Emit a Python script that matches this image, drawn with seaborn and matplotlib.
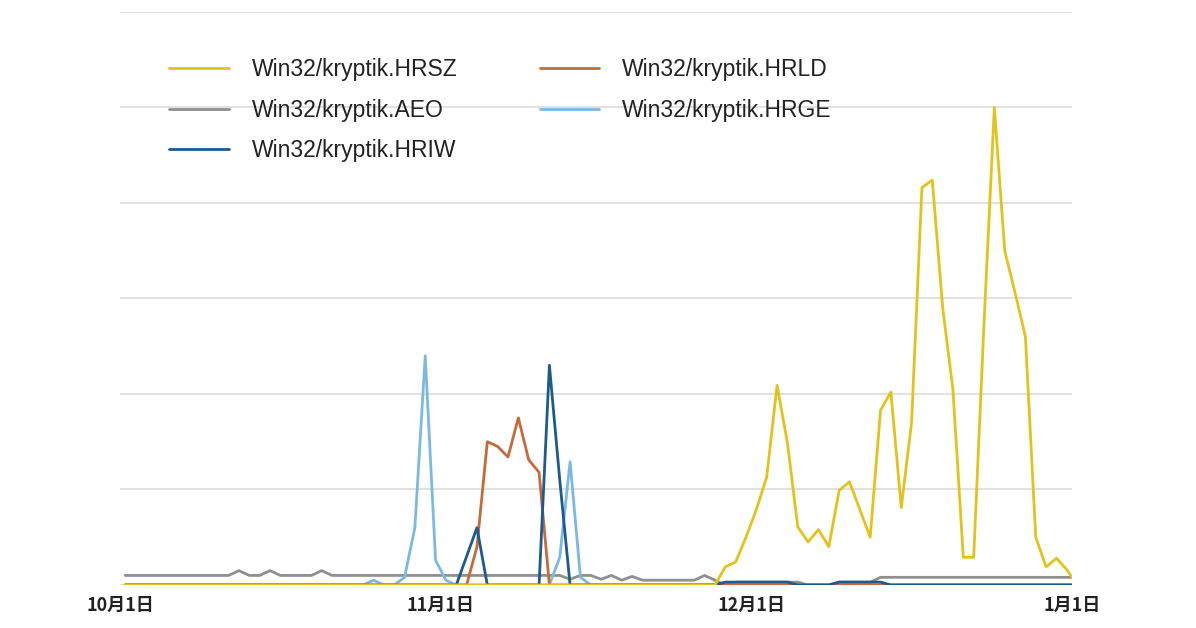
import numpy as np
import pandas as pd
import matplotlib
matplotlib.use("Agg")
import matplotlib.pyplot as plt
import seaborn as sns

N_DAYS = 93  # day 0 = 10/1, day 92 = 1/1
series_names = ["Win32/kryptik.HRSZ", "Win32/kryptik.AEO", "Win32/kryptik.HRIW",
                "Win32/kryptik.HRLD", "Win32/kryptik.HRGE"]
colors = ["#E3C21C", "#8f8f8f", "#1d5a8e", "#c56a3c", "#7bb9e3"]
tick_days = [0, 31, 61, 92]
tick_labels = ["10月1日", "11月1日", "12月1日", "1月1日"]

# HRSZ (yellow), days 57..91
hrsz_days = list(range(57, 92))
hrsz_vals = [0, 1.9, 2.4, 5, 7.9, 11.3, 20.9, 14.9, 6.1, 4.5, 5.8, 4.0, 9.9, 10.8, 7.9,
             5.0, 18.3, 20.2, 8.1, 17, 41.6, 42.4, 29.1, 20.4, 2.9, 2.9, 27.4, 50, 35,
             30.6, 26, 5, 1.9, 2.8, 1.6]
# AEO (gray)
aeo_vals = [1.0, 1.0, 1.0, 1.0, 1.0, 1.0, 1.0, 1.0, 1.0, 1.0, 1.0, 1.5, 1.0, 1.0, 1.5, 1.0,
            1.0, 1.0, 1.0, 1.5, 1.0, 1.0, 1.0, 1.0, 1.0, 1.0, 1.0, 1.0, 1.0, 1.0, 1.0, 1.0,
            1.0, 1.0, 1.0, 1.0, 1.0, 1.0, 1.0, 1.0, 1.0, 1.0, 1.0, 0.6, 1.0, 1.0, 0.6, 1.0,
            0.5, 0.9, 0.5, 0.5, 0.5, 0.5, 0.5, 0.5, 1.0, 0.5, 0.0, 0.3, 0.3, 0.3, 0.3, 0.3,
            0.3, 0.3, 0.0, 0.0, 0.0, 0.3, 0.3, 0.3, 0.3, 0.8, 0.8, 0.8, 0.8, 0.8, 0.8, 0.8,
            0.8, 0.8, 0.8, 0.8, 0.8, 0.8, 0.8, 0.8, 0.8, 0.8, 0.8, 0.8, 0.8]
# HRIW (dark blue)
hriw_days = [32, 33, 34, 35, 40, 41, 42, 43, 58, 59, 60, 61, 62, 63, 64, 65, 69, 70, 71, 72, 73]
hriw_vals = [0, 3, 6, 0, 0, 23, 11, 0, 0.3, 0.3, 0.3, 0.3, 0.3, 0.3, 0.3, 0, 0.3, 0.3, 0.3, 0.3, 0.3]
# HRLD (orange)
hrld_days = [33, 34, 35, 36, 37, 38, 39, 40, 41]
hrld_vals = [0, 4, 15, 14.5, 13.4, 17.5, 13.1, 11.8, 0]
# HRGE (light blue)
hrge_days = [23, 24, 25, 27, 28, 29, 30, 31, 42, 43, 44]
hrge_vals = [0, 0.5, 0, 0.8, 6, 24, 2.6, 0.5, 2.9, 12.9, 0.8]

def expand(days, vals):
    arr = np.zeros(N_DAYS)
    arr[days] = vals
    return arr

data = {
    series_names[0]: expand(hrsz_days, hrsz_vals),
    series_names[1]: np.array(aeo_vals),
    series_names[2]: expand(hriw_days, hriw_vals),
    series_names[3]: expand(hrld_days, hrld_vals),
    series_names[4]: expand(hrge_days, hrge_vals),
}
rows = []
for name in series_names:
    for d, v in enumerate(data[name]):
        rows.append({"day": d + 0.5, "value": v, "series": name})  # midday sample
df = pd.DataFrame(rows)

sns.set_theme(style="white")
plt.rcParams['font.family'] = ['Liberation Sans', 'Noto Sans CJK JP', 'DejaVu Sans']

fig = plt.figure(figsize=(11.96, 6.28), dpi=100)
ax = fig.add_axes([0.1003, 0.0685, 0.7960, 0.9125])
order_draw = [1, 4, 3, 2, 0]
for i in order_draw:
    sub = df[df.series == series_names[i]]
    sns.lineplot(data=sub, x="day", y="value", color=colors[i], lw=2,
                 ax=ax, label=series_names[i], legend=False)

ax.set_xlim(0, 92)
ax.set_ylim(0, 60)
ax.set_yticks(range(0, 61, 10))
ax.set_yticklabels([])
ax.yaxis.grid(True, color="#dcdcdc", lw=1.2)
ax.xaxis.grid(False)
ax.set_xticks(tick_days)
ax.set_xticklabels(tick_labels, fontsize=13, fontweight="bold", color="#222222",
                   family=['Noto Sans CJK JP', 'DejaVu Sans'])
ax.tick_params(axis="x", length=0, pad=8)
ax.tick_params(axis="y", length=0)
for s in ax.spines.values():
    s.set_visible(False)
ax.set_xlabel("")
ax.set_ylabel("")

handles, labels = ax.get_legend_handles_labels()
hmap = dict(zip(labels, handles))
leg = ax.legend([hmap[n] for n in series_names], series_names, ncol=2,
                loc="upper left", bbox_to_anchor=(0.03, 0.955), frameon=False,
                fontsize=16.5, handlelength=2.6, handletextpad=1.0,
                columnspacing=3.6, labelspacing=0.75)
for t in leg.get_texts():
    t.set_color("#222222")
for line in leg.get_lines():
    line.set_linewidth(2)

fig.savefig("out.png", dpi=100)
